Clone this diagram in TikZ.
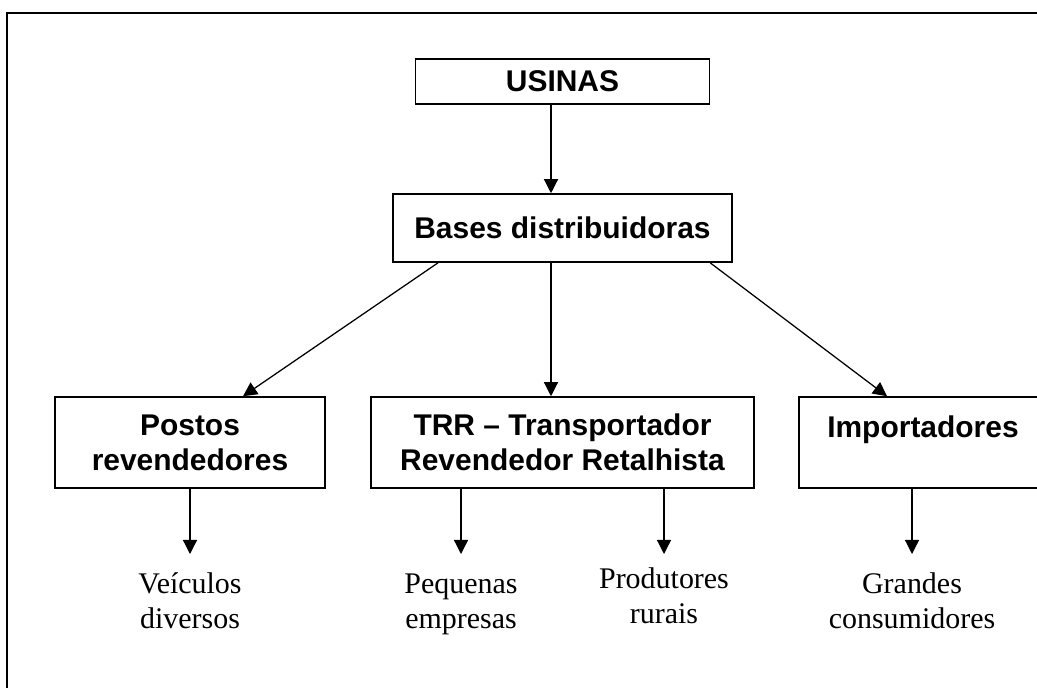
\documentclass[tikz,border=0pt]{standalone}
\usepackage{fontspec}
\setmainfont{Liberation Serif}
\newfontfamily\caixafont{Liberation Sans}
\usetikzlibrary{arrows.meta}

\begin{document}
\begin{tikzpicture}[x=0.025cm,y=-0.025cm,
  caixa/.style={draw,line width=1.1pt,align=center,inner sep=0pt,
    font=\caixafont\bfseries\fontsize{21.3}{25}\selectfont},
  rotulo/.style={anchor=north,align=center,inner sep=0pt,text height=1.85cm,
    font=\fontsize{21.3}{25}\selectfont},
  seta/.style={line width=0.9pt,-{Triangle[length=0.35cm,width=0.35cm]}}]
\useasboundingbox (0,0) rectangle (1037,688);
\clip (0,0) rectangle (1037,688);
% moldura
\draw[line width=1.8pt] (7,13) rectangle (1060,720);

\node[caixa,minimum width=7.35cm,minimum height=1.125cm] (usinas) at (562.5,81.5) {USINAS};
\node[caixa,minimum width=8.475cm,minimum height=1.7cm] (bases) at (562.5,228) {Bases distribuidoras};
\node[caixa,minimum width=6.75cm,minimum height=2.275cm] (postos) at (190,442.5) {Postos\\revendedores};
\node[caixa,minimum width=9.575cm,minimum height=2.275cm] (trr) at (562.5,442.5) {TRR – Transportador\\Revendedor Retalhista};
\node[caixa,minimum width=7.025cm,minimum height=2.275cm] (imp) at (939.5,442.5) {};
\node[anchor=base west,inner sep=0pt,font=\caixafont\bfseries\fontsize{21.3}{25}\selectfont] (impt) at (827,437) {Importadores};

\node[rotulo] (veiculos) at (190,554) {Veículos\\diversos};
\node[rotulo] (pequenas) at (461,554) {Pequenas\\empresas};
\node[rotulo,text height=1.725cm] (produtores) at (664,554) {Produtores\\rurais};
\node[rotulo] (grandes) at (912,554) {Grandes\\consumidores};

\draw[seta] ([xshift=-0.2875cm]usinas.south) -- ([xshift=-0.2875cm]bases.north);
\draw[seta] ([xshift=-3.11cm]bases.south) -- ([xshift=1.325cm]postos.north);
\draw[seta] ([xshift=-0.2875cm]bases.south) -- ([xshift=-0.2875cm]trr.north);
\draw[seta] ([xshift=3.69cm]bases.south) -- ([xshift=-1.3125cm]imp.north);

\draw[seta] (postos.south -| veiculos.north) -- (veiculos.north);
\draw[seta] (trr.south -| pequenas.north) -- (pequenas.north);
\draw[seta] (trr.south -| produtores.north) -- (produtores.north);
\draw[seta] (imp.south -| grandes.north) -- (grandes.north);
\end{tikzpicture}
\end{document}
